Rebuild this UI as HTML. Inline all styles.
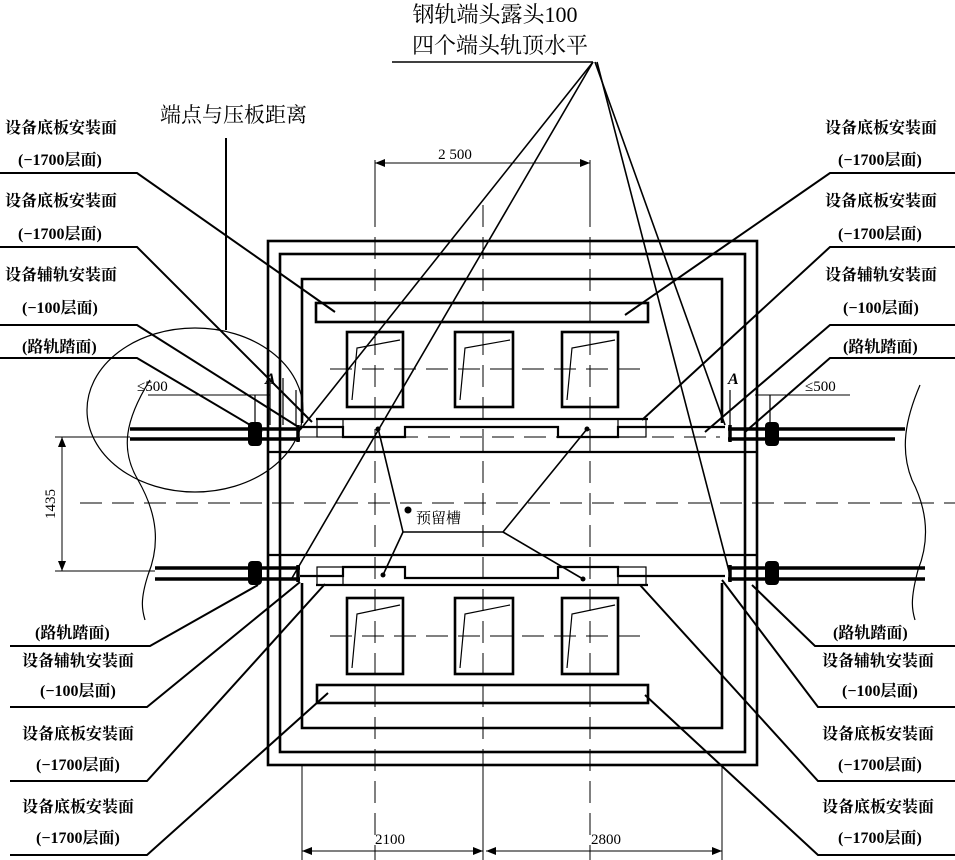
<!DOCTYPE html>
<html><head><meta charset="utf-8"><style>
html,body{margin:0;padding:0;background:#fff}
svg{display:block}
text{font-family:"Liberation Serif","Noto Serif CJK SC","Noto Sans CJK SC",serif;fill:#000}
.b{font-weight:bold;font-size:16px}
</style></head><body>
<svg width="955" height="860" viewBox="0 0 955 860" xmlns="http://www.w3.org/2000/svg">
<defs>
<marker id="ar" markerWidth="10" markerHeight="8" refX="10" refY="4" orient="auto" markerUnits="userSpaceOnUse"><path d="M0,0 L10,4 L0,8 Z" fill="#000"/></marker>
<marker id="al" markerWidth="10" markerHeight="8" refX="0" refY="4" orient="auto" markerUnits="userSpaceOnUse"><path d="M10,0 L0,4 L10,8 Z" fill="#000"/></marker>
</defs>
<g fill="none" stroke="#000">
<g stroke-width="1" stroke-dasharray="22,10">
<line x1="80" y1="503" x2="955" y2="503"/>
<line x1="375" y1="205" x2="375" y2="860"/>
<line x1="483" y1="205" x2="483" y2="860"/>
<line x1="590" y1="205" x2="590" y2="860"/>
<line x1="330" y1="369" x2="640" y2="369"/>
<line x1="330" y1="636" x2="640" y2="636"/>
<line x1="300" y1="437" x2="720" y2="437"/>
</g>
<g stroke-width="2.6">
<rect x="268" y="241" width="489" height="524"/>
<rect x="280" y="254" width="465" height="498"/>
<polyline points="302,423 302,279 722,279 722,423"/>
<polyline points="302,583 302,728 722,728 722,583"/>
<rect x="316" y="303" width="332" height="19"/>
<rect x="317" y="685" width="331" height="18"/>
<rect x="347" y="332" width="56" height="75"/>
<rect x="455" y="332" width="58" height="75"/>
<rect x="562" y="332" width="56" height="75"/>
<rect x="347" y="598" width="56" height="76"/>
<rect x="455" y="598" width="58" height="76"/>
<rect x="562" y="598" width="56" height="76"/>
</g>
<g stroke-width="1.2">
<polyline points="352,400 357,348 400,340"/><polyline points="460,400 465,348 510,340"/><polyline points="567,400 572,348 615,340"/>
<polyline points="352,668 357,614 400,605"/><polyline points="460,668 465,614 510,605"/><polyline points="567,668 572,614 615,605"/>
</g>
<g stroke-width="2.2">
<line x1="268" y1="452" x2="757" y2="452"/>
<line x1="268" y1="555" x2="757" y2="555"/>
<line x1="316" y1="419" x2="648" y2="419"/>
<polyline points="300,427 343,427 343,437 405,437 405,427 558,427 558,437 618,437 618,427 725,427"/>
<polyline points="300,576 343,576 343,567 405,567 405,578 558,578 558,567 618,567 618,576 725,576"/>
<line x1="316" y1="585" x2="648" y2="585"/>
</g>
<g stroke-width="1.2">
<rect x="317" y="419" width="26" height="18"/><rect x="618" y="419" width="28" height="18"/>
<rect x="317" y="567" width="26" height="18"/><rect x="618" y="567" width="28" height="18"/>
</g>
<g stroke-width="3.5">
<line x1="130" y1="429" x2="300" y2="429"/><line x1="130" y1="439" x2="300" y2="439"/>
<line x1="155" y1="568" x2="300" y2="568"/><line x1="155" y1="579" x2="300" y2="579"/>
<line x1="728" y1="429" x2="905" y2="429"/><line x1="728" y1="439" x2="895" y2="439"/>
<line x1="728" y1="568" x2="925" y2="568"/><line x1="728" y1="579" x2="925" y2="579"/>
<line x1="298" y1="425" x2="298" y2="442"/><line x1="298" y1="565" x2="298" y2="582"/>
<line x1="730" y1="425" x2="730" y2="442"/><line x1="730" y1="565" x2="730" y2="582"/>
</g>
<g fill="#000" stroke="none">
<rect x="248" y="422" width="14" height="24" rx="4"/><rect x="248" y="561" width="14" height="24" rx="4"/>
<rect x="765" y="422" width="14" height="24" rx="4"/><rect x="765" y="561" width="14" height="24" rx="4"/>
</g>
<g stroke-width="1.2">
<line x1="255" y1="395" x2="255" y2="425"/><line x1="270" y1="378" x2="270" y2="425"/><line x1="283" y1="378" x2="283" y2="425"/><line x1="296" y1="390" x2="296" y2="425"/>
<line x1="730" y1="390" x2="730" y2="425"/><line x1="745" y1="378" x2="745" y2="425"/><line x1="770" y1="395" x2="770" y2="425"/>
</g>
<g stroke-width="1.2">
<path d="M150,380 C125,420 120,450 138,480 C158,515 160,545 148,575 C140,600 142,610 145,620"/>
<path d="M920,385 C905,420 900,450 912,480 C930,515 928,545 918,570 C910,600 912,610 915,620"/>
<ellipse cx="195" cy="410" rx="108" ry="82"/>
</g>
<g stroke-width="1">
<line x1="55" y1="437" x2="130" y2="437"/><line x1="55" y1="571" x2="155" y2="571"/>
<line x1="62" y1="437" x2="62" y2="571" marker-start="url(#al)" marker-end="url(#ar)"/>
<line x1="375" y1="160" x2="375" y2="205"/><line x1="590" y1="160" x2="590" y2="205"/>
<line x1="375" y1="163" x2="590" y2="163" marker-start="url(#al)" marker-end="url(#ar)"/>
<line x1="302" y1="765" x2="302" y2="860"/><line x1="483" y1="765" x2="483" y2="860"/><line x1="722" y1="765" x2="722" y2="860"/>
<line x1="302" y1="851" x2="483" y2="851" marker-start="url(#al)" marker-end="url(#ar)"/>
<line x1="486" y1="851" x2="722" y2="851" marker-start="url(#al)" marker-end="url(#ar)"/>
<line x1="148" y1="395" x2="270" y2="395"/><line x1="755" y1="395" x2="850" y2="395"/>
</g>
<g stroke-width="2">
<polyline points="0,173 137,173 335,312"/>
<polyline points="0,247 137,247 312,422"/>
<polyline points="0,325 137,325 300,428"/>
<polyline points="0,358 137,358 262,432"/>
<polyline points="955,173 830,173 625,315"/>
<polyline points="955,247 830,247 642,420"/>
<polyline points="955,325 830,325 705,432"/>
<polyline points="955,358 830,358 745,432"/>
<polyline points="10,646 150,646 258,585"/>
<polyline points="10,707 147,707 300,582"/>
<polyline points="10,781 147,781 325,584"/>
<polyline points="10,855 147,855 328,693"/>
<polyline points="955,646 815,646 752,585"/>
<polyline points="955,707 818,707 722,580"/>
<polyline points="955,781 818,781 640,585"/>
<polyline points="955,855 818,855 645,695"/>
<line x1="226" y1="138" x2="226" y2="330"/>
</g>
<g stroke-width="1.6">
<line x1="392" y1="62" x2="593" y2="62"/>
<line x1="593" y1="62" x2="300" y2="430"/>
<line x1="593" y1="62" x2="292" y2="578"/>
<line x1="595" y1="62" x2="725" y2="425"/>
<line x1="597" y1="62" x2="730" y2="575"/>
<polyline points="378,428 403,532 503,532 587,429"/>
<polyline points="383,575 403,532"/>
<polyline points="503,532 583,579"/>
</g>
</g>
<g fill="#000">
<circle cx="378" cy="429" r="2.5"/><circle cx="587" cy="429" r="2.5"/><circle cx="383" cy="575" r="2.5"/><circle cx="583" cy="579" r="2.5"/>
<circle cx="408" cy="510" r="3.5"/>
</g>
<text x="495" y="22" font-size="22" text-anchor="middle">钢轨端头露头100</text>
<text x="500" y="53" font-size="22" text-anchor="middle">四个端头轨顶水平</text>
<text x="160" y="122" font-size="21">端点与压板距离</text>
<text x="455" y="159" font-size="15" text-anchor="middle">2 500</text>
<text x="390" y="844" font-size="15" text-anchor="middle">2100</text>
<text x="606" y="844" font-size="15" text-anchor="middle">2800</text>
<text x="137" y="391" font-size="15">≤500</text>
<text x="805" y="391" font-size="15">≤500</text>
<text x="265" y="384" font-size="16" font-weight="bold" font-style="italic">A</text>
<text x="728" y="384" font-size="16" font-weight="bold" font-style="italic">A</text>
<text x="416" y="523" font-size="15">预留槽</text>
<text x="55" y="504" font-size="15" text-anchor="middle" transform="rotate(-90 55 504)">1435</text>
<g class="b">
<text x="5" y="133">设备底板安装面</text>
<text x="18" y="165">(−1700层面)</text>
<text x="5" y="206">设备底板安装面</text>
<text x="18" y="239">(−1700层面)</text>
<text x="5" y="280">设备辅轨安装面</text>
<text x="22" y="313">(−100层面)</text>
<text x="22" y="352">(路轨踏面)</text>
<text x="825" y="133">设备底板安装面</text>
<text x="838" y="165">(−1700层面)</text>
<text x="825" y="206">设备底板安装面</text>
<text x="838" y="239">(−1700层面)</text>
<text x="825" y="280">设备辅轨安装面</text>
<text x="843" y="313">(−100层面)</text>
<text x="843" y="352">(路轨踏面)</text>
<text x="35" y="638">(路轨踏面)</text>
<text x="22" y="666">设备辅轨安装面</text>
<text x="40" y="696">(−100层面)</text>
<text x="22" y="739">设备底板安装面</text>
<text x="36" y="770">(−1700层面)</text>
<text x="22" y="812">设备底板安装面</text>
<text x="36" y="843">(−1700层面)</text>
<text x="833" y="638">(路轨踏面)</text>
<text x="822" y="666">设备辅轨安装面</text>
<text x="842" y="696">(−100层面)</text>
<text x="822" y="739">设备底板安装面</text>
<text x="838" y="770">(−1700层面)</text>
<text x="822" y="812">设备底板安装面</text>
<text x="838" y="843">(−1700层面)</text>
</g>
</svg>
</body></html>
